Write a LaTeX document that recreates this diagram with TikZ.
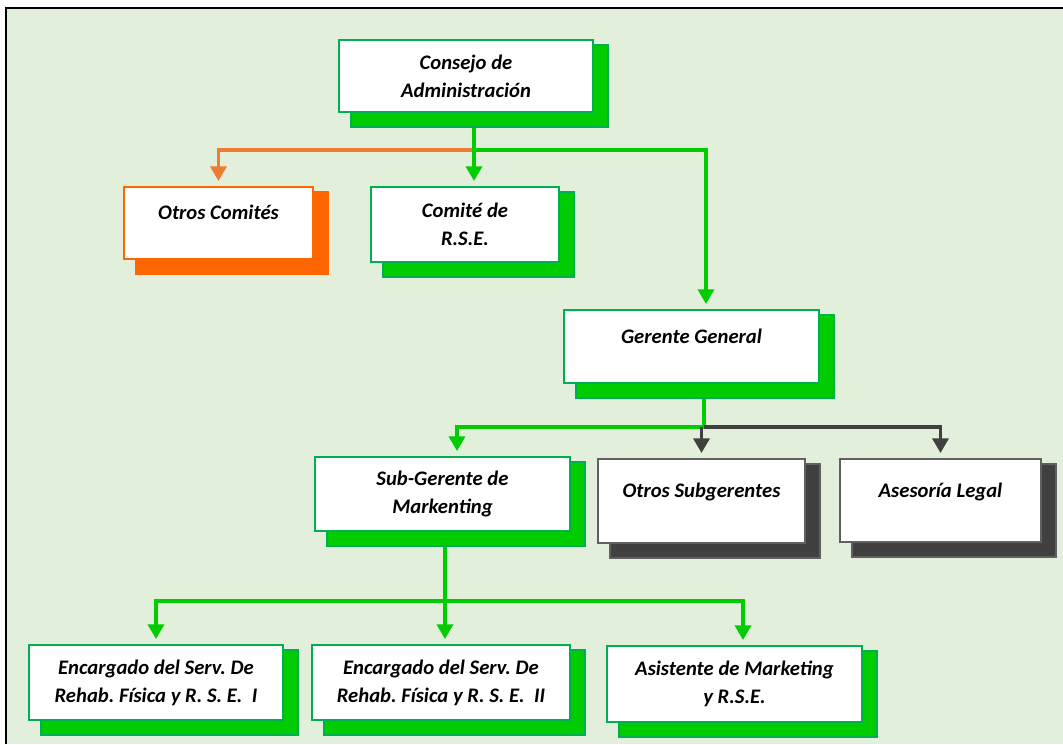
\documentclass[tikz,border=0pt]{standalone}
\usepackage{fontspec}
\setmainfont{Carlito}
\usetikzlibrary{arrows.meta,backgrounds}

\definecolor{bgfill}{RGB}{226,239,218}
\definecolor{boxgreen}{RGB}{0,176,80}
\definecolor{shadegreen}{RGB}{0,204,0}
\definecolor{linegreen}{RGB}{0,204,0}
\definecolor{boxorange}{RGB}{255,102,0}
\definecolor{lineorange}{RGB}{237,125,49}
\definecolor{boxgray}{RGB}{96,96,96}
\definecolor{shadegray}{RGB}{64,64,64}

\tikzset{every picture/.style={line width=0.75pt}}

\begin{document}
\begin{tikzpicture}[x=0.75pt,y=0.75pt,yscale=-1,xscale=1,
  card/.style={draw=#1, line width=2pt, fill=white, inner sep=0pt, align=center,
    font=\bfseries\itshape\fontsize{15.5}{21}\selectfont\frenchspacing},
  link/.style={draw=#1, line width=2.6pt, -{Triangle[width=12pt,length=11pt]}, shorten >=3.5pt},
  wire/.style={draw=#1, line width=2.6pt}]
\useasboundingbox (0,0) rectangle (1063,744);

% Text Node
\node[card=boxgreen, minimum width=190.5pt, minimum height=54pt] (consejo) at (466,76) {Consejo de\\Administración};
% Text Node
\node[card=boxorange, minimum width=141.75pt, minimum height=54pt] (otros) at (218.5,223) {Otros Comités\\[-5pt]\mbox{}};
% Text Node
\node[card=boxgreen, minimum width=141pt, minimum height=56.25pt] (rse) at (465,224.5) {Comité de\\R.S.E.};
% Text Node
\node[card=boxgreen, minimum width=191.25pt, minimum height=54.75pt] (gg) at (691.5,346.5) {Gerente General\\[-5pt]\mbox{}};
% Text Node
\node[card=boxgreen, minimum width=191.25pt, minimum height=55.5pt] (subg) at (442.5,494) {Sub-Gerente de\\Markenting};
% Text Node
\node[card=boxgray, minimum width=155.25pt, minimum height=63pt] (osub) at (701.5,501) {Otros Subgerentes\\[-5pt]\mbox{}};
% Text Node
\node[card=boxgray, minimum width=150.75pt, minimum height=62.25pt] (legal) at (940.5,500.5) {Asesoría Legal\\[-5pt]\mbox{}};
% Text Node
\node[card=boxgreen, minimum width=190.5pt, minimum height=56.25pt] (encI) at (156,682.5) {Encargado del Serv. De\\Rehab. Física y R. S. E.~~I};
% Text Node
\node[card=boxgreen, minimum width=193.5pt, minimum height=56.25pt] (encII) at (441,682.5) {Encargado del Serv. De\\Rehab. Física y R. S. E.~~II};
% Text Node
\node[card=boxgreen, minimum width=191.25pt, minimum height=57pt] (asis) at (734.5,684) {Asistente de Marketing\\y R.S.E.};

%Branch points
\coordinate (top) at (474,150);
\coordinate (ggin) at (706,150);
\coordinate (mid) at (704,427);
\coordinate (subin) at (457,427);
\coordinate (low) at (445,601);
\coordinate (asin) at (743,601);

\begin{pgfonlayer}{background}
%Frame
\fill[white] (0,0) rectangle (1063,744);
\fill[bgfill] (6,8) rectangle (1063,744);
\draw[line width=1.5pt] (6,744) -- (6,8) -- (1063,8);

%Straight Lines
\draw[link=lineorange] (top) -| (otros.north);
\draw[link=linegreen] (top |- consejo.south) -- (top |- rse.north);
\draw[link=linegreen] (top) -| (ggin |- gg.north);
\draw[wire=linegreen] (mid |- gg.south) -- (mid);
\draw[link=linegreen] (mid) -| (subin |- subg.north);
\draw[link=shadegray] (mid) -| (legal.north);
\draw[link=shadegray] (osub.north |- mid) -- (osub.north);
\draw[link=linegreen] (low |- subg.south) -- (low |- encII.north);
\draw[link=linegreen] (low) -| (encI.north);
\draw[link=linegreen] (low) -| (asin |- asis.north);

%Shadows
\foreach \n/\s/\b in {consejo/shadegreen/boxgreen, otros/boxorange/boxorange, rse/shadegreen/boxgreen,
    gg/shadegreen/boxgreen, subg/shadegreen/boxgreen, osub/shadegray/boxgray, legal/shadegray/boxgray,
    encI/shadegreen/boxgreen, encII/shadegreen/boxgreen, asis/shadegreen/boxgreen}
  \draw[draw=\b, fill=\s, line width=1.5pt] ([shift={(13,6)}]\n.north west) rectangle ([shift={(14,14)}]\n.south east);
\end{pgfonlayer}

\end{tikzpicture}
\end{document}
